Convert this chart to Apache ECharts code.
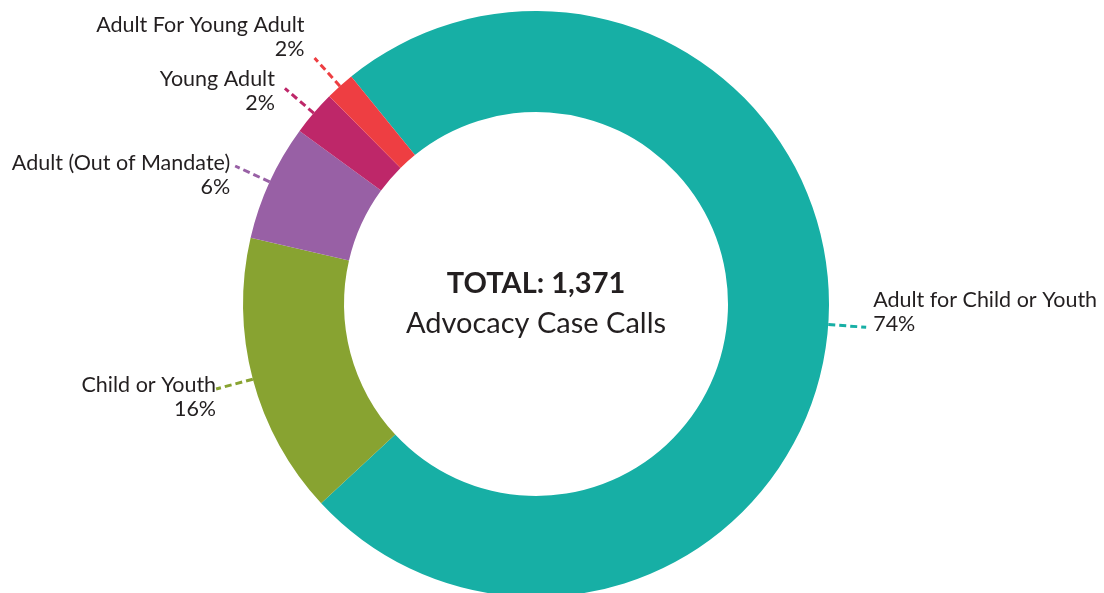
<!DOCTYPE html>
<html>
<head>
<meta charset="utf-8">
<script src="https://cdn.jsdelivr.net/npm/echarts@6/dist/echarts.min.js"></script>
<style>html,body{margin:0;padding:0;background:#fff;}#chart{width:1104px;height:593px;}</style>
</head>
<body>
<div id="chart"></div>
<script>
var categories = ['Adult for Child or Youth', 'Child or Youth', 'Adult (Out of Mandate)', 'Young Adult', 'Adult For Young Adult'];
var counts = [1014, 213, 88, 34, 22];
var colors = ['#17AFA5', '#88A331', '#9860A5', '#BE2769', '#EE3E42'];
var totalLabel = 'TOTAL: 1,371';
var subLabel = 'Advocacy Case Calls';

// label nudges (layout only)
var labelNudge = [[2, -15], [5, 8], [0, 9], [-5, 3], [-5, -21]];

var chart = echarts.init(document.getElementById('chart'));
var FONT = 'Lato';
var data = categories.map(function (c, i) {
  return {
    name: c, value: counts[i],
    itemStyle: { color: colors[i] },
    labelLine: { lineStyle: { color: colors[i], type: [7, 4], width: 3 } }
  };
});
chart.setOption({
  animation: false,
  graphic: [
    { type: 'text', x: 536, y: 269, style: { text: totalLabel, font: 'bold 29px ' + FONT, fill: '#231F20', textAlign: 'center' } },
    { type: 'text', x: 536, y: 309, style: { text: subLabel, font: '29px ' + FONT, fill: '#231F20', textAlign: 'center' } }
  ],
  series: [{
    type: 'pie',
    center: [536, 304],
    radius: [192, 293],
    startAngle: 129.1,
    clockwise: true,
    avoidLabelOverlap: false,
    data: data,
    label: {
      show: true,
      position: 'outside',
      color: '#231F20',
      fontFamily: FONT,
      fontSize: 21.5,
      lineHeight: 24,
      overflow: 'none',
      formatter: function (p) { return p.name + '\n' + Math.round(p.percent) + '%'; }
    },
    labelLine: { show: true, length: 38, length2: 0, smooth: false },
    labelLayout: function (p) {
      var n = labelNudge[p.dataIndex];
      return { dx: n[0], dy: n[1] };
    },
    emphasis: { disabled: true }
  }]
});
</script>
</body>
</html>
